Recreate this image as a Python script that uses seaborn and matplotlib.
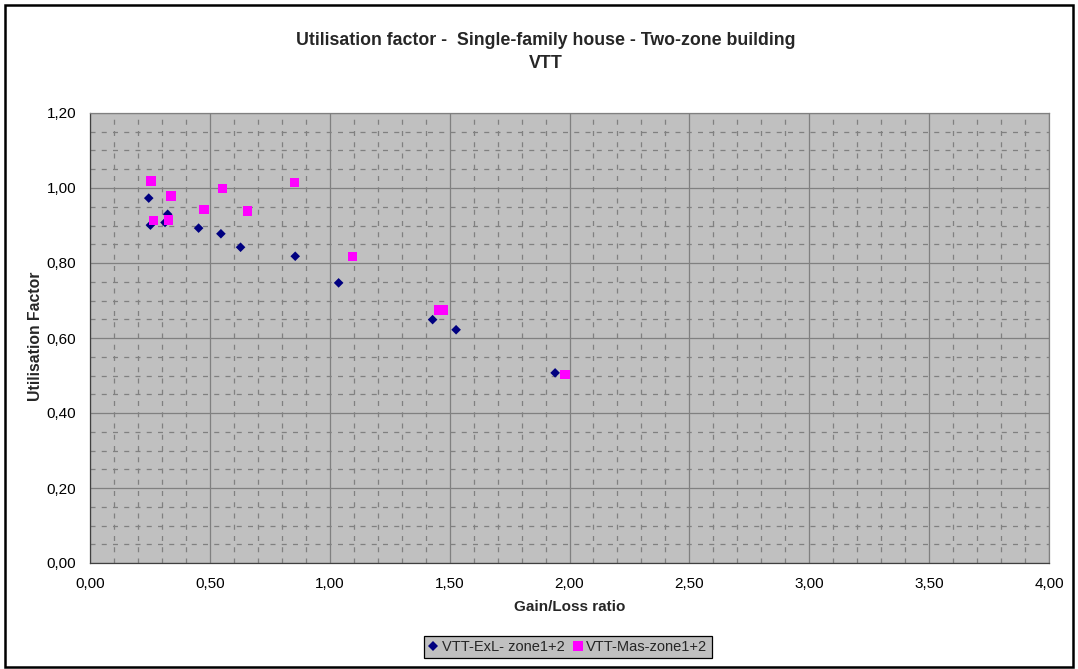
import matplotlib
matplotlib.use("Agg")
import matplotlib.pyplot as plt
import matplotlib.ticker as mticker
from matplotlib.patches import Rectangle
import numpy as np
import pandas as pd
import seaborn as sns

# ---- data ----
exl_x = [0.245, 0.252, 0.324, 0.313, 0.453, 0.546, 0.628, 0.856, 1.037, 1.429, 1.527, 1.940]
exl_y = [0.973, 0.901, 0.930, 0.908, 0.893, 0.878, 0.842, 0.818, 0.747, 0.649, 0.622, 0.507]
mas_x = [0.254, 0.338, 0.264, 0.328, 0.475, 0.553, 0.656, 0.852, 1.096, 1.453, 1.474, 1.981]
mas_y = [1.019, 0.979, 0.914, 0.915, 0.943, 0.998, 0.939, 1.015, 0.817, 0.675, 0.675, 0.503]
series_names = ["VTT-ExL- zone1+2", "VTT-Mas-zone1+2"]
title_text = "Utilisation factor -  Single-family house - Two-zone building\nVTT"
x_label = "Gain/Loss ratio"
y_label = "Utilisation Factor"

df = pd.DataFrame({
    "x": exl_x + mas_x,
    "y": exl_y + mas_y,
    "series": [series_names[0]] * len(exl_x) + [series_names[1]] * len(mas_x),
})

sns.set_style("white")
plt.rcParams["font.family"] = ["Liberation Sans", "DejaVu Sans"]

W, H = 1078, 669
fig = plt.figure(figsize=(W / 100, H / 100), dpi=100)
fig.patch.set_facecolor("white")
ax = fig.add_axes([90 / W, 1 - 563 / H, (1049 - 90) / W, (563 - 113) / H])
ax.set_facecolor("#C0C0C0")

sns.scatterplot(
    data=df, x="x", y="y", hue="series", style="series", size="series",
    palette={series_names[0]: "#000080", series_names[1]: "#FF00FF"},
    markers={series_names[0]: "D", series_names[1]: "s"},
    sizes={series_names[0]: 24, series_names[1]: 46},
    linewidth=0, ax=ax, zorder=3, legend=True,
)

ax.set_xlim(0, 4)
ax.set_ylim(0, 1.2)
ax.xaxis.set_major_locator(mticker.MultipleLocator(0.5))
ax.xaxis.set_minor_locator(mticker.MultipleLocator(0.1))
ax.yaxis.set_major_locator(mticker.MultipleLocator(0.2))
ax.yaxis.set_minor_locator(mticker.MultipleLocator(0.05))
fmt = mticker.FuncFormatter(lambda v, p: f"{v:.2f}".replace(".", ","))
ax.xaxis.set_major_formatter(fmt)
ax.yaxis.set_major_formatter(fmt)

ax.set_axisbelow(True)
ax.grid(which="major", color="#808080", linewidth=0.9, linestyle="-")
ax.grid(which="minor", color="#808080", linewidth=0.9, linestyle=(0, (4, 5)))
ax.tick_params(which="major", direction="out", length=4, width=0.9, color="#404040",
               labelsize=11, pad=6, labelcolor="black")
ax.tick_params(which="minor", length=0)
for s in ax.spines.values():
    s.set_color("#808080")
    s.set_linewidth(0.9)
ax.spines["left"].set_color("#404040")
ax.spines["bottom"].set_color("#404040")

ax.set_xlabel("")
ax.set_ylabel("")
fig.text(569.5 / W, 1 - 607 / H, x_label, ha="center", va="center", fontsize=11, fontweight="bold")
fig.text(35 / W, 1 - 336 / H, y_label, ha="center", va="center", fontsize=11.3,
         fontweight="bold", rotation=90)
fig.text(546 / W, 1 - 52 / H, title_text, ha="center", va="center", fontsize=12.8,
         fontweight="bold", linespacing=1.4)

handles, labels = ax.get_legend_handles_labels()
ax.get_legend().remove()
leg = fig.legend(handles, labels, loc="center", bbox_to_anchor=(568 / W, 1 - 647 / H),
                 ncol=2, frameon=True, fontsize=10.5, handlelength=0.6, handletextpad=0.3,
                 columnspacing=0.6, borderpad=0.3, fancybox=False)
leg.get_frame().set_facecolor("#C0C0C0")
leg.get_frame().set_edgecolor("black")
leg.get_frame().set_linewidth(0.9)
leg.get_frame().set_alpha(1)

fig.patches.append(Rectangle((4.5 / W, 1 - 667 / H), (1073 - 4.5) / W, (667 - 5) / H,
                             transform=fig.transFigure, fill=False, edgecolor="black",
                             linewidth=1.8))

fig.savefig("out.png", dpi=100)
